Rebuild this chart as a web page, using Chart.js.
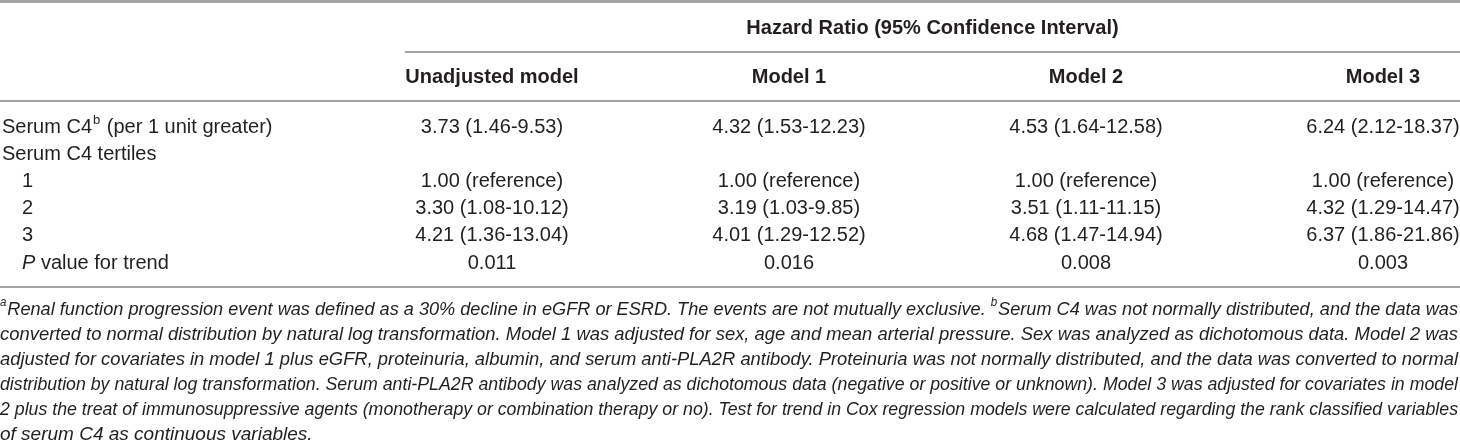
<!DOCTYPE html>
<html>
<head>
<meta charset="utf-8">
<script src="https://cdn.jsdelivr.net/npm/chart.js@4.4.1/dist/chart.umd.min.js"></script>
<style>
  html, body { margin: 0; padding: 0; background: #fff; }
  #wrap { width: 1460px; height: 445px; position: relative; }
</style>
</head>
<body>
<div id="wrap"><canvas id="hrTable"></canvas></div>
<script>
// table content
const groupTitle = "Hazard Ratio (95% Confidence Interval)";
const models = ["Unadjusted model", "Model 1", "Model 2", "Model 3"];
const rowLabels = ["Serum C4 (per 1 unit greater)", "Serum C4 tertiles", "1", "2", "3", "P value for trend"];
const unadjusted = ["3.73 (1.46-9.53)", "", "1.00 (reference)", "3.30 (1.08-10.12)", "4.21 (1.36-13.04)", "0.011"];
const model1 = ["4.32 (1.53-12.23)", "", "1.00 (reference)", "3.19 (1.03-9.85)", "4.01 (1.29-12.52)", "0.016"];
const model2 = ["4.53 (1.64-12.58)", "", "1.00 (reference)", "3.51 (1.11-11.15)", "4.68 (1.47-14.94)", "0.008"];
const model3 = ["6.24 (2.12-18.37)", "", "1.00 (reference)", "4.32 (1.29-14.47)", "6.37 (1.86-21.86)", "0.003"];
const columns = [unadjusted, model1, model2, model3];

// footnote lines, "^x" marks a superscript letter
const footnote = [
  "^aRenal function progression event was defined as a 30% decline in eGFR or ESRD. The events are not mutually exclusive. ^bSerum C4 was not normally distributed, and the data was",
  "converted to normal distribution by natural log transformation. Model 1 was adjusted for sex, age and mean arterial pressure. Sex was analyzed as dichotomous data. Model 2 was",
  "adjusted for covariates in model 1 plus eGFR, proteinuria, albumin, and serum anti-PLA2R antibody. Proteinuria was not normally distributed, and the data was converted to normal",
  "distribution by natural log transformation. Serum anti-PLA2R antibody was analyzed as dichotomous data (negative or positive or unknown). Model 3 was adjusted for covariates in model",
  "2 plus the treat of immunosuppressive agents (monotherapy or combination therapy or no). Test for trend in Cox regression models were calculated regarding the rank classified variables",
  "of serum C4 as continuous variables."
];

const FONT = "'Liberation Sans', Arial, Helvetica, sans-serif";
const TEXT = "#231f20";
const RULE = "#a3a3a3";

// draws rules, headers, row labels, cell texts and footnote
const tablePlugin = {
  id: "tablePlugin",
  afterDatasetsDraw(chart) {
    const ctx = chart.ctx;
    const xs = chart.scales.x;
    const ys = chart.scales.y;
    const W = chart.width;
    const area = chart.chartArea;

    ctx.save();
    ctx.fillStyle = TEXT;
    ctx.textBaseline = "middle";

    function rule(x1, x2, y, w) {
      ctx.beginPath();
      ctx.strokeStyle = RULE;
      ctx.lineWidth = w;
      ctx.moveTo(x1, y);
      ctx.lineTo(x2, y);
      ctx.stroke();
    }

    const groupLeft = xs.getPixelForValue(0) - 87;
    const headY = area.top - 50;

    // header block
    rule(0, W, 1.5, 3);
    ctx.font = "bold 20px " + FONT;
    ctx.textAlign = "center";
    ctx.fillText(groupTitle, (groupLeft + W) / 2, area.top - 99);
    rule(groupLeft, W, area.top - 75, 2);
    models.forEach((m, i) => ctx.fillText(m, xs.getPixelForValue(i), headY));
    rule(0, W, area.top - 26, 2);

    // cells
    ctx.font = "20px " + FONT;
    chart.data.datasets.forEach((ds, di) => {
      const meta = chart.getDatasetMeta(di);
      meta.data.forEach((pt, i) => {
        const t = ds.data[i].text;
        if (t) ctx.fillText(t, pt.x, pt.y);
      });
    });

    // row labels
    ctx.textAlign = "left";
    rowLabels.forEach((lab, i) => {
      const y = ys.getPixelForValue(i);
      if (i === 0) {
        ctx.font = "20px " + FONT;
        let x = 2;
        ctx.fillText("Serum C4", x, y);
        x += ctx.measureText("Serum C4").width + 1;
        ctx.font = "13px " + FONT;
        ctx.fillText("b", x, y - 7);
        x += ctx.measureText("b").width + 1;
        ctx.font = "20px " + FONT;
        ctx.fillText(" (per 1 unit greater)", x, y);
      } else if (i === rowLabels.length - 1) {
        let x = 22;
        ctx.font = "italic 20px " + FONT;
        ctx.fillText("P", x, y);
        x += ctx.measureText("P").width;
        ctx.font = "20px " + FONT;
        ctx.fillText(" value for trend", x, y);
      } else if (/^\d$/.test(lab)) {
        ctx.font = "20px " + FONT;
        ctx.fillText(lab, 22, y);
      } else {
        ctx.font = "20px " + FONT;
        ctx.fillText(lab, 2, y);
      }
    });

    const lastY = ys.getPixelForValue(rowLabels.length - 1);
    rule(0, W, lastY + 24, 2);

    // justified italic footnote
    const fnFont = "italic 19px " + FONT;
    const supFont = "italic 12px " + FONT;
    const full = W - 2;
    footnote.forEach((line, li) => {
      const y = lastY + 47 + li * 25;
      const words = line.split(" ").map(w => {
        if (w[0] === "^") return { sup: w[1], txt: w.slice(2) };
        return { sup: "", txt: w };
      });
      ctx.font = supFont;
      words.forEach(w => { w.sw = w.sup ? ctx.measureText(w.sup).width + 1 : 0; });
      ctx.font = fnFont;
      words.forEach(w => { w.w = w.sw + ctx.measureText(w.txt).width; });
      const space = ctx.measureText(" ").width;
      const natural = words.reduce((s, w) => s + w.w, 0) + space * (words.length - 1);
      const last = li === footnote.length - 1;
      let sx = 1, gap = space;
      if (!last) {
        if (natural > full) sx = full / natural;
        else gap = space + (full - natural) / (words.length - 1);
      }
      ctx.save();
      ctx.translate(0, y);
      ctx.scale(sx, 1);
      let x = 0;
      words.forEach(w => {
        if (w.sup) {
          ctx.font = supFont;
          ctx.fillText(w.sup, x, -7);
          x += w.sw;
        }
        ctx.font = fnFont;
        ctx.fillText(w.txt, x, 0);
        x += w.w - w.sw + gap;
      });
      ctx.restore();
    });

    ctx.restore();
  }
};

const ctx = document.getElementById("hrTable").getContext("2d");

new Chart(ctx, {
  type: "scatter",
  data: {
    datasets: columns.map((col, c) => ({
      label: models[c],
      data: col.map((txt, r) => ({ x: models[c], y: rowLabels[r], text: txt })),
      pointRadius: 0,
      pointHoverRadius: 0,
      showLine: false,
    })),
  },
  options: {
    responsive: true,
    maintainAspectRatio: false,
    animation: false,
    events: [],
    layout: {
      autoPadding: false,
      padding: { left: 492, right: 77, top: 127, bottom: 182 },
    },
    scales: {
      x: { type: "category", labels: models, offset: false, display: false },
      y: { type: "category", labels: rowLabels, offset: false, display: false },
    },
    plugins: {
      legend: { display: false },
      tooltip: { enabled: false },
    },
  },
  plugins: [tablePlugin],
});
</script>
</body>
</html>
